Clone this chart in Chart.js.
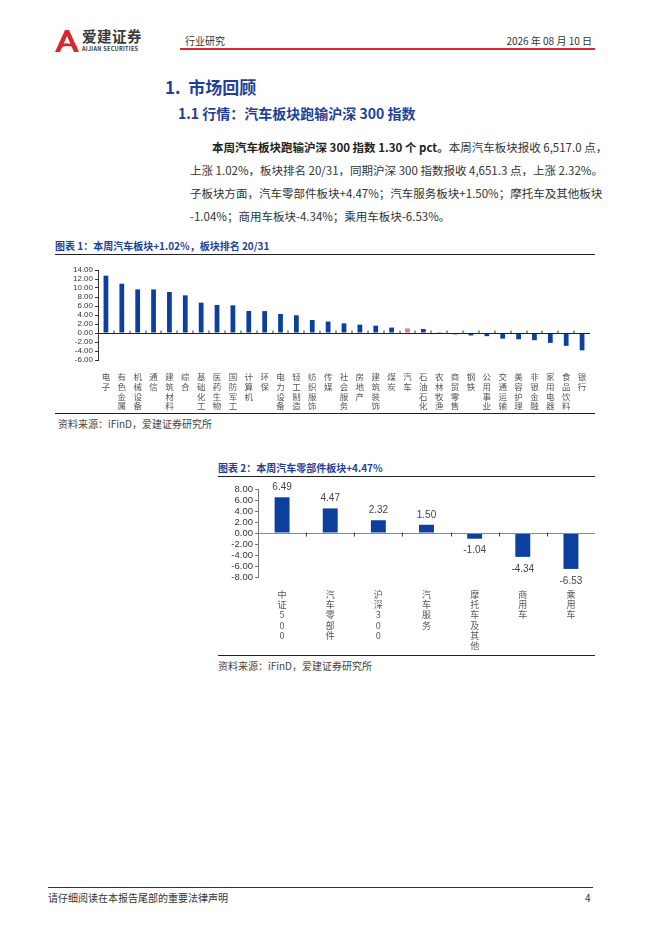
<!DOCTYPE html>
<html>
<head>
<meta charset="utf-8">
<script src="https://cdn.jsdelivr.net/npm/chart.js@4.4.0/dist/chart.umd.min.js"></script>
<style>
    body { margin: 0; background: #fff; font-family: "Noto Sans CJK SC", "Noto Sans", sans-serif; color: #333; }
    .page { position: relative; width: 662px; height: 936px; overflow: hidden; }
    .abs { position: absolute; white-space: nowrap; }
    .h1 { left: 165px; top: 74px; font-size: 17px; font-weight: bold; color: #1f3f99; }
    .h2 { left: 178px; top: 103px; font-size: 14px; font-weight: bold; color: #1f3f99; }
    .para div { position: absolute; font-size: 11.5px; color: #333; white-space: nowrap; }
    .just { text-align: justify; text-align-last: justify; }
    .title { font-size: 10px; font-weight: bold; color: #1f3f99; }
    .rule { position: absolute; height: 1px; background: #222; }
    .src { font-size: 10px; color: #444; }
    .box { position: absolute; }
</style>
</head>
<body>
<div class="page">
    <!-- header -->
    <svg class="abs" style="left:55px;top:30px" width="24" height="22" viewBox="0 0 24 22">
        <path d="M0 22 L10 0 L14 0 L24 22 L19 22 L12 6 L5 22 Z" fill="#d7282f"/>
        <path d="M4 15 Q12 11 22 16 L21 18 Q12 14 5 18 Z" fill="#d7282f"/>
    </svg>
    <div class="abs" style="left:82px;top:27px;font-size:14.5px;line-height:18px;font-weight:bold;color:#3a3a3a;letter-spacing:0.5px">爱建证券</div>
    <div class="abs" style="left:82px;top:46px;font-size:5.5px;line-height:7px;font-weight:bold;color:#3a3a3a;letter-spacing:0.3px">AIJIAN SECURITIES</div>
    <div class="abs" style="left:185px;top:33px;font-size:10px;color:#333">行业研究</div>
    <div class="abs" style="right:70px;top:33px;font-size:10px;color:#333">2026 年 08 月 10 日</div>
    <div class="rule" style="left:180px;top:48px;width:415px;height:2px;background:#d7282f"></div>

    <div class="abs h1">1.&nbsp;&nbsp;市场回顾</div>
    <div class="abs h2">1.1 行情：汽车板块跑输沪深 300 指数</div>

    <div class="para">
        <div class="just" style="left:212px;top:139px;width:383px"><b style="color:#222">本周汽车板块跑输沪深 300 指数 1.30 个 pct。</b>本周汽车板块报收 6,517.0 点，</div>
        <div class="just" style="left:190px;top:162px;width:402px">上涨 1.02%，板块排名 20/31，同期沪深 300 指数报收 4,651.3 点，上涨 2.32%。</div>
        <div class="just" style="left:190px;top:185px;width:405px">子板块方面，汽车零部件板块+4.47%；汽车服务板块+1.50%；摩托车及其他板块</div>
        <div style="left:190px;top:208px">-1.04%；商用车板块-4.34%；乘用车板块-6.53%。</div>
    </div>

    <!-- chart 1 -->
    <div class="abs title" style="left:55px;top:238px">图表 1：本周汽车板块+1.02%，板块排名 20/31</div>
    <div class="rule" style="left:55px;top:254px;width:540px"></div>
    <div class="box" style="left:55px;top:262px;width:545px;height:150px"><canvas id="sectorChart"></canvas></div>
    <div class="rule" style="left:55px;top:413px;width:540px"></div>
    <div class="abs src" style="left:58px;top:416px">资料来源：iFinD，爱建证券研究所</div>

    <!-- chart 2 -->
    <div class="abs title" style="left:218px;top:460px">图表 2：本周汽车零部件板块+4.47%</div>
    <div class="rule" style="left:218px;top:476px;width:377px"></div>
    <div class="box" style="left:215px;top:480px;width:380px;height:170px"><canvas id="subChart"></canvas></div>
    <div class="rule" style="left:218px;top:655px;width:377px"></div>
    <div class="abs src" style="left:218px;top:658px">资料来源：iFinD，爱建证券研究所</div>

    <!-- footer -->
    <div class="rule" style="left:48px;top:887px;width:545px;background:#1f3864"></div>
    <div class="abs" style="left:48px;top:890px;font-size:10px;color:#333">请仔细阅读在本报告尾部的重要法律声明</div>
    <div class="abs" style="left:585px;top:890px;font-size:10px;color:#333">4</div>
</div>

<script>
    // Chart 1 data: weekly change by sector (%)
    var sectorLabels = ['电子', '有色金属', '机械设备', '通信', '建筑材料', '综合', '基础化工', '医药生物',
        '国防军工', '计算机', '环保', '电力设备', '轻工制造', '纺织服饰', '传媒', '社会服务', '房地产',
        '建筑装饰', '煤炭', '汽车', '石油石化', '农林牧渔', '商贸零售', '钢铁', '公用事业', '交通运输',
        '美容护理', '非银金融', '家用电器', '食品饮料', '银行'];
    var sectorValues = [12.74, 10.96, 9.70, 9.68, 9.11, 8.37, 6.74, 6.22,
        6.15, 4.89, 4.87, 4.22, 3.93, 2.89, 2.55, 2.15, 1.85,
        1.63, 1.20, 1.02, 0.90, 0.05, -0.30, -0.55, -0.70, -1.25,
        -1.40, -1.60, -2.20, -2.85, -3.85];
    var sectorTicks = { min: -6, max: 14, step: 2 };

    // Chart 2 data: auto sub-sectors vs indices (%)
    var subLabels = ['中证500', '汽车零部件', '沪深300', '汽车服务', '摩托车及其他', '商用车', '乘用车'];
    var subValues = [6.49, 4.47, 2.32, 1.50, -1.04, -4.34, -6.53];
    var subTicks = { min: -8, max: 8, step: 2 };

    var numFont = "'Liberation Sans', 'Noto Sans CJK SC', sans-serif";
    var cjkFont = "'Noto Sans CJK SC', sans-serif";
    var barBlue = '#0d3f9f';

    // one character per line, like vertical text
    function vertical(label) {
        return Array.from(label);
    }

    // zero line with small tick marks at category boundaries
    function zeroLinePlugin(lineColor, tickColor, above) {
        return {
            id: 'zeroLine',
            afterDatasetsDraw: function(chart) {
                var ctx = chart.ctx;
                var x = chart.scales.x;
                var y0 = Math.round(chart.scales.y.getPixelForValue(0)) + 0.5;
                var area = chart.chartArea;
                ctx.save();
                ctx.strokeStyle = lineColor;
                ctx.lineWidth = 1;
                ctx.beginPath();
                ctx.moveTo(area.left, y0);
                ctx.lineTo(area.right, y0);
                ctx.stroke();
                ctx.fillStyle = tickColor;
                for (var i = 1; i < x.ticks.length; i++) {
                    var bx = (x.getPixelForTick(i - 1) + x.getPixelForTick(i)) / 2;
                    if (above) {
                        ctx.fillRect(Math.round(bx) - 1, y0 - 3, 2, 2.5);
                    } else {
                        ctx.fillRect(Math.round(bx), y0 - 1, 1, 4);
                    }
                }
                ctx.restore();
            }
        };
    }

    // value labels above / below each bar
    var valueLabelPlugin = {
        id: 'valueLabels',
        afterDatasetsDraw: function(chart) {
            var ctx = chart.ctx;
            var meta = chart.getDatasetMeta(0);
            var values = chart.data.datasets[0].data;
            ctx.save();
            ctx.font = '10px ' + numFont;
            ctx.fillStyle = '#444';
            ctx.textAlign = 'center';
            ctx.textBaseline = 'middle';
            meta.data.forEach(function(bar, i) {
                var v = values[i];
                var ty = v >= 0 ? bar.y - 10 : bar.y + 12;
                ctx.fillText(v.toFixed(2), bar.x, ty);
            });
            ctx.restore();
        }
    };

    function yScale(t, yWidth, borderColor, fontSize) {
        return {
            min: t.min,
            max: t.max,
            afterFit: function(scale) { scale.width = yWidth; },
            border: { display: true, color: borderColor, width: 1 },
            grid: { drawOnChartArea: false, drawTicks: true, tickLength: 3, color: borderColor },
            ticks: {
                stepSize: t.step,
                autoSkip: false,
                padding: 2,
                color: '#333',
                font: { family: numFont, size: fontSize, lineHeight: 1 },
                callback: function(v) { return Number(v).toFixed(2); }
            }
        };
    }

    function xScale(xHeight, fontSize) {
        return {
            offset: true,
            afterFit: function(scale) { scale.height = xHeight; },
            border: { display: false },
            grid: { display: false },
            ticks: {
                autoSkip: false,
                maxRotation: 0,
                minRotation: 0,
                padding: 4,
                color: '#555',
                font: { family: cjkFont, size: fontSize, lineHeight: 1.15 }
            }
        };
    }

    new Chart(document.getElementById('sectorChart'), {
        type: 'bar',
        data: {
            labels: sectorLabels.map(vertical),
            datasets: [{
                data: sectorValues,
                backgroundColor: sectorLabels.map(function(l) { return l === '汽车' ? '#e07a80' : barBlue; }),
                categoryPercentage: 1,
                barPercentage: 0.3
            }]
        },
        options: {
            responsive: true,
            maintainAspectRatio: false,
            animation: false,
            layout: { padding: { top: 8, right: 10, left: 0, bottom: 0 } },
            plugins: { legend: { display: false }, tooltip: { enabled: false } },
            scales: {
                x: xScale(52, 8.5),
                y: yScale(sectorTicks, 43, '#333', 8)
            }
        },
        plugins: [zeroLinePlugin('#222', '#999', true)]
    });

    new Chart(document.getElementById('subChart'), {
        type: 'bar',
        data: {
            labels: subLabels.map(vertical),
            datasets: [{
                data: subValues,
                backgroundColor: barBlue,
                categoryPercentage: 1,
                barPercentage: 0.31
            }]
        },
        options: {
            responsive: true,
            maintainAspectRatio: false,
            animation: false,
            layout: { padding: { top: 9, right: 0, left: 0, bottom: 0 } },
            plugins: { legend: { display: false }, tooltip: { enabled: false } },
            scales: {
                x: xScale(73, 9),
                y: yScale(subTicks, 43, '#777', 9.5)
            }
        },
        plugins: [zeroLinePlugin('#888', '#444', false), valueLabelPlugin]
    });
</script>
</body>
</html>
